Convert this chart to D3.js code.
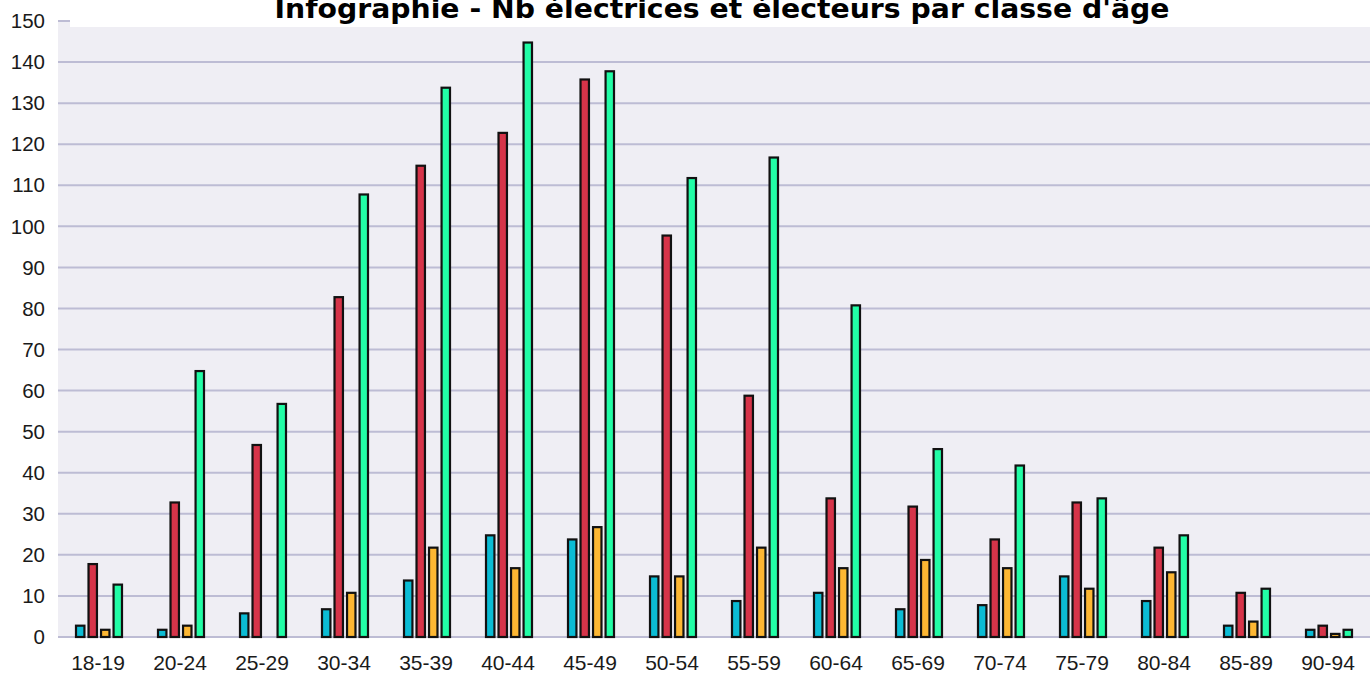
<!DOCTYPE html>
<html>
<head>
<meta charset="utf-8">
<script src="https://cdn.jsdelivr.net/npm/d3@7"></script>
<style>
  html, body { margin: 0; padding: 0; background: #fff; }
  svg { display: block; }
</style>
</head>
<body>
<script>
// age classes
const categories = ["18-19","20-24","25-29","30-34","35-39","40-44","45-49","50-54","55-59","60-64","65-69","70-74","75-79","80-84","85-89","90-94"];
// four series per class
const serieBleue  = [3, 2, 6, 7, 14, 25, 24, 15, 9, 11, 7, 8, 15, 9, 3, 2];
const serieRouge  = [18, 33, 47, 83, 115, 123, 136, 98, 59, 34, 32, 24, 33, 22, 11, 3];
const serieOrange = [2, 3, 0, 11, 22, 17, 27, 15, 22, 17, 19, 17, 12, 16, 4, 1];
const serieVerte  = [13, 65, 57, 108, 134, 145, 138, 112, 117, 81, 46, 42, 34, 25, 12, 2];
const yTicks = [0,10,20,30,40,50,60,70,80,90,100,110,120,130,140,150];
const colors = ["#0bbcd4", "#d63449", "#fdb733", "#22fda6"];
const title = "Infographie - Nb électrices et électeurs par classe d'âge";

const series = [serieBleue, serieRouge, serieOrange, serieVerte];

const W = 1370, H = 674;
const mLeft = 58, mRight = 1370, mTop = 21, mBottom = 637;

const svg = d3.select("body").append("svg").attr("width", W).attr("height", H);

const x0 = d3.scaleBand().domain(categories).range([mLeft, mRight]);
const x1 = d3.scaleBand().domain(d3.range(series.length)).range([17, 17 + 48]).paddingInner(2 / 12);
const y = d3.scaleLinear().domain([0, 150]).range([mBottom, mTop]);

// plot background
svg.append("rect").attr("x", mLeft).attr("y", mTop).attr("width", mRight - mLeft).attr("height", mBottom - mTop).attr("fill", "#efeef4");

// grid lines
svg.append("g").selectAll("line").data(yTicks).join("line")
  .attr("x1", mLeft).attr("x2", mRight)
  .attr("y1", d => y(d)).attr("y2", d => y(d))
  .attr("stroke", "#bdbcd4").attr("stroke-width", 2);

// y labels
svg.append("g").selectAll("text").data(yTicks).join("text")
  .attr("x", 45).attr("y", d => y(d))
  .attr("text-anchor", "end").attr("dy", "0.35em")
  .attr("font-family", "Liberation Sans, Arial, sans-serif").attr("font-size", 20.5).attr("fill", "#1a1a1a")
  .text(d => d);

// bars
const groups = svg.append("g").selectAll("g").data(categories).join("g")
  .attr("transform", d => `translate(${x0(d)},0)`);
groups.selectAll("rect").data((d, i) => series.map((s, k) => ({ k, v: s[i] }))).join("rect")
  .filter(d => d.v > 0)
  .attr("x", d => x1(d.k) + 1)
  .attr("y", d => y(d.v) + 1)
  .attr("width", x1.bandwidth() - 2)
  .attr("height", d => Math.max(0, y(0) - y(d.v) - 1))
  .attr("fill", d => colors[d.k])
  .attr("stroke", "#111").attr("stroke-width", 2.2);

// x labels
svg.append("g").selectAll("text").data(categories).join("text")
  .attr("x", d => x0(d) + 17 + 24 - 1).attr("y", 670)
  .attr("text-anchor", "middle")
  .attr("font-family", "Liberation Sans, Arial, sans-serif").attr("font-size", 21).attr("fill", "#1a1a1a")
  .text(d => d);

// title box covers the top of the plot
svg.append("rect").attr("x", 70).attr("y", 0).attr("width", W - 70).attr("height", 27).attr("fill", "#fff");
svg.append("text").attr("x", 722).attr("y", 18)
  .attr("text-anchor", "middle")
  .attr("font-family", "DejaVu Sans, Verdana, sans-serif").attr("font-weight", "bold").attr("font-size", 27)
  .attr("textLength", 895).attr("lengthAdjust", "spacingAndGlyphs")
  .attr("fill", "#000")
  .text(title);
</script>
</body>
</html>
